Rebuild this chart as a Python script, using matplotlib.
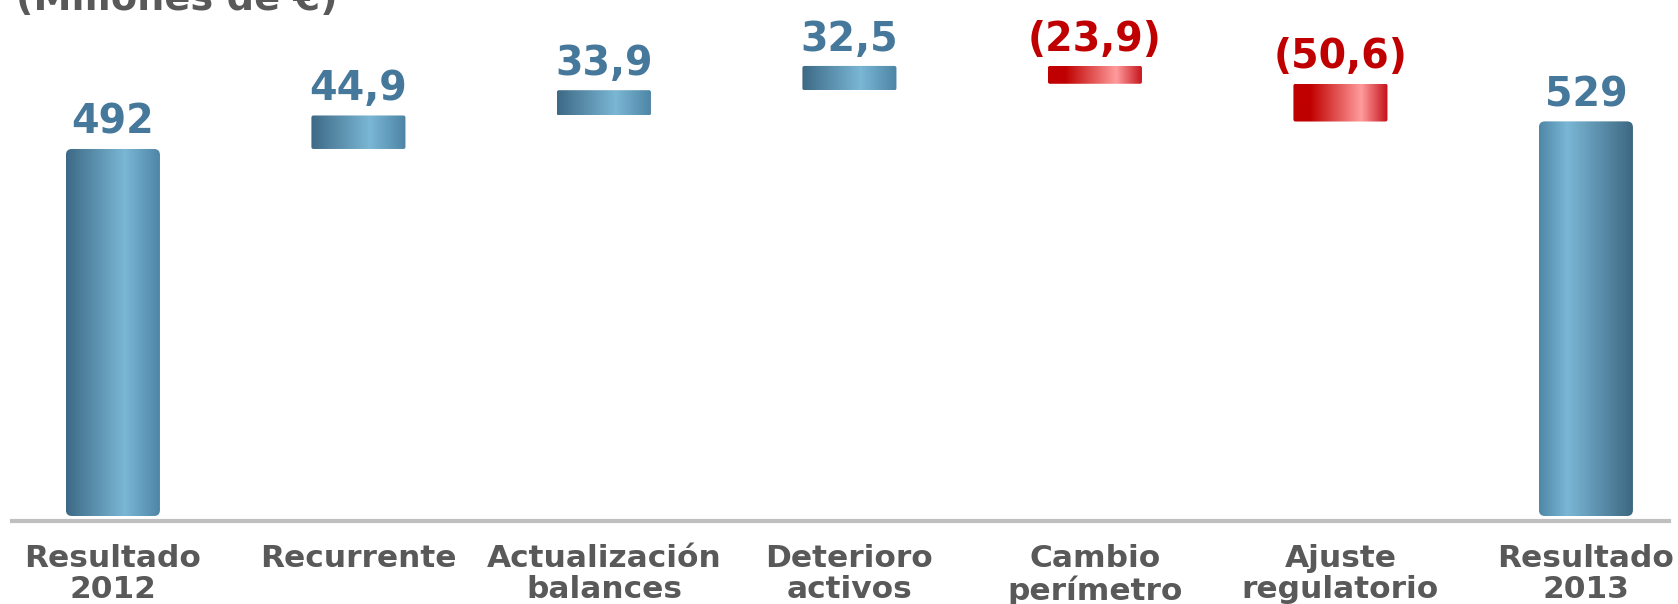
import numpy as np
import matplotlib.pyplot as plt
from matplotlib.colors import LinearSegmentedColormap
from matplotlib.patches import FancyBboxPatch

# data
categories = ['Resultado\n2012', 'Recurrente', 'Actualización\nbalances',
              'Deterioro\nactivos', 'Cambio\nperímetro', 'Ajuste\nregulatorio',
              'Resultado\n2013']
values = [492, 44.9, 33.9, 32.5, -23.9, -50.6, 529]
value_labels = ['492', '44,9', '33,9', '32,5', '(23,9)', '(50,6)', '529']
is_total = [True, False, False, False, False, False, True]

# gradients
blue_cm = LinearSegmentedColormap.from_list(
    'blue', [(0, '#3d6985'), (0.62, '#7ab7d5'), (1, '#4d84a4')])
blue_rev = LinearSegmentedColormap.from_list(
    'bluer', [(0, '#4f87a7'), (0.3, '#7ab7d5'), (1, '#3c6680')])
red_cm = LinearSegmentedColormap.from_list(
    'red', [(0, '#c00000'), (0.18, '#c00000'), (0.72, '#ff9c9c'), (1, '#c41018')])

fig = plt.figure(figsize=(16.78, 6.04), dpi=100)
ax = fig.add_axes([0, 88 / 604, 1, 516 / 604])

x = np.arange(len(values))
width = 0.383
px_x = 245.5        # pixels per x unit
px_y = 0.746        # pixels per y unit
aspect = px_x / px_y

grad = np.linspace(0, 1, 256).reshape(1, -1)
running = 0
for i, v in enumerate(values):
    if is_total[i]:
        bottom, top = 0, v
        running = v
        cmap = blue_rev if i == len(values) - 1 else blue_cm
        r_px = 6
    else:
        if v >= 0:
            bottom, top = running, running + v
            cmap = blue_cm
        else:
            bottom, top = running + v, running
            cmap = red_cm
        running += v
        r_px = 2
    x0 = x[i] - width / 2
    patch = FancyBboxPatch((x0, bottom), width, top - bottom,
                           boxstyle='round,pad=0,rounding_size=%f' % (r_px / px_x),
                           mutation_aspect=aspect, facecolor='none',
                           edgecolor='none', transform=ax.transData)
    ax.add_patch(patch)
    im = ax.imshow(grad, extent=[x0, x0 + width, bottom, top], aspect='auto',
                   cmap=cmap, interpolation='bicubic', zorder=2)
    im.set_clip_path(patch)

    col = '#c00000' if v < 0 else '#45789a'
    ax.annotate(value_labels[i], (x[i], top), xytext=(0, 11),
                textcoords='offset points', ha='center', va='baseline',
                fontsize=28.5, fontweight='bold', color=col)

# base line
ax.axhline(-6.7, xmin=12 / 1678, xmax=1669 / 1678, color='#bfbfbf', lw=3,
           clip_on=False, zorder=1)

ax.set_xlim(-0.46, 6.375)
ax.set_ylim(0, 691.7)
ax.set_xticks(x, categories, fontsize=22.5, fontweight='bold', color='#595959',
              linespacing=1.1)
ax.tick_params(axis='x', length=0, pad=20)
ax.set_yticks([])
for s in ax.spines.values():
    s.set_visible(False)

fig.text(16 / 1678, 1 - 10 / 604, '(Millones de €)', fontsize=27.5,
         fontweight='bold', color='#595959', va='baseline', ha='left')

fig.savefig('out.png', dpi=100)
